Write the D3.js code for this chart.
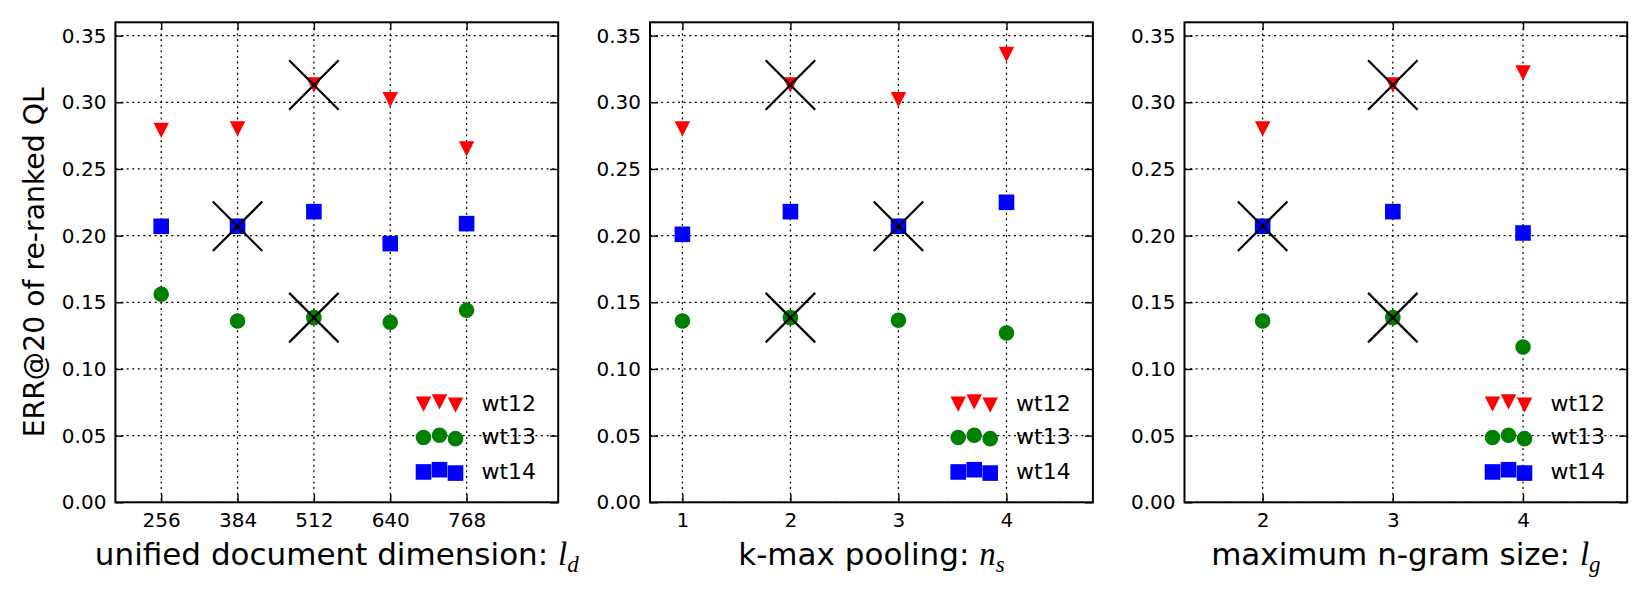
<!DOCTYPE html>
<html>
<head>
<meta charset="utf-8">
<script src="https://cdn.jsdelivr.net/npm/d3@7"></script>
<style>
  html, body { margin: 0; padding: 0; background: #fff; }
  svg { display: block; }
  text { font-family: "DejaVu Sans", sans-serif; fill: #000; }
</style>
</head>
<body>
<svg id="chart" width="1650" height="600"></svg>
<script>
// ---------------- DATA ----------------
const seriesNames = ["wt12", "wt13", "wt14"];
const yTickValues = [0.00, 0.05, 0.10, 0.15, 0.20, 0.25, 0.30, 0.35];

// Panel 1: unified document dimension l_d
const ldCategories = [256, 384, 512, 640, 768];
const ldWt12 = [0.279, 0.280, 0.313, 0.302, 0.265];
const ldWt13 = [0.156, 0.136, 0.1385, 0.135, 0.144];
const ldWt14 = [0.207, 0.207, 0.218, 0.194, 0.209];
const ldBest = [512, 512, 384];          // chosen setting for wt12, wt13, wt14

// Panel 2: k-max pooling n_s
const nsCategories = [1, 2, 3, 4];
const nsWt12 = [0.280, 0.313, 0.302, 0.336];
const nsWt13 = [0.136, 0.1385, 0.1365, 0.127];
const nsWt14 = [0.201, 0.218, 0.207, 0.225];
const nsBest = [2, 2, 3];

// Panel 3: maximum n-gram size l_g
const lgCategories = [2, 3, 4];
const lgWt12 = [0.280, 0.313, 0.322];
const lgWt13 = [0.136, 0.1385, 0.1165];
const lgWt14 = [0.207, 0.218, 0.202];
const lgBest = [3, 3, 2];

const xLabels = [
  {text: "unified document dimension: ", mathMain: "l", mathSub: "d"},
  {text: "k-max pooling: ", mathMain: "n", mathSub: "s"},
  {text: "maximum n-gram size: ", mathMain: "l", mathSub: "g"}
];
const yLabel = "ERR@20 of re-ranked QL";

// ---------------- LAYOUT / STYLE ----------------
const colors = {wt12: "#ff0000", wt13: "#008000", wt14: "#0000ff"};
const panelLeft = [115.4, 650, 1184.5];
const panelRight = [558.2, 1092.9, 1627.2];
const plotTop = 22.3, plotBottom = 502.3;
const tickLen = 8;

const panels = [
  {cats: ldCategories, vals: [ldWt12, ldWt13, ldWt14], best: ldBest},
  {cats: nsCategories, vals: [nsWt12, nsWt13, nsWt14], best: nsBest},
  {cats: lgCategories, vals: [lgWt12, lgWt13, lgWt14], best: lgBest}
];

const svg = d3.select("#chart");

// marker shapes
const triDown = {draw(ctx, size) {
  const h = Math.sqrt(size) / 2;
  ctx.moveTo(0, h); ctx.lineTo(-h * 1.02, -h); ctx.lineTo(h * 1.02, -h); ctx.closePath();
}};
const bigX = {draw(ctx, size) {
  const h = Math.sqrt(size) / 2;
  ctx.moveTo(-h, -h); ctx.lineTo(h, h); ctx.moveTo(-h, h); ctx.lineTo(h, -h);
}};
const symbolFor = {
  wt12: d3.symbol().type(triDown).size(15.2 * 15.2),
  wt13: d3.symbol().type(d3.symbolCircle).size(Math.PI * 7.8 * 7.8),
  wt14: d3.symbol().type(d3.symbolSquare).size(15.6 * 15.6)
};
const xSymbol = d3.symbol().type(bigX).size(49.5 * 49.5);

const y = d3.scaleLinear().domain([0, 0.36]).range([plotBottom, plotTop]);

panels.forEach((p, i) => {
  const x = d3.scaleLinear()
    .domain([0.7 * d3.min(p.cats), 1.2 * d3.max(p.cats)])
    .range([panelLeft[i], panelRight[i]]);
  const g = svg.append("g");

  // grid
  g.append("g").selectAll("line").data(p.cats).join("line")
    .attr("x1", d => x(d)).attr("x2", d => x(d))
    .attr("y1", plotTop).attr("y2", plotBottom)
    .attr("stroke", "#000").attr("stroke-width", 1.2).attr("stroke-dasharray", "2,3.6");
  g.append("g").selectAll("line").data(yTickValues).join("line")
    .attr("x1", panelLeft[i]).attr("x2", panelRight[i])
    .attr("y1", d => y(d)).attr("y2", d => y(d))
    .attr("stroke", "#000").attr("stroke-width", 1.2).attr("stroke-dasharray", "2,3.6");

  // axes with inward ticks on all four sides
  const fmt = d3.format(".2f");
  const left = g.append("g").attr("transform", `translate(${panelLeft[i]},0)`)
    .call(d3.axisLeft(y).tickValues(yTickValues).tickFormat(fmt).tickSizeInner(-tickLen).tickSizeOuter(0).tickPadding(9));
  const right = g.append("g").attr("transform", `translate(${panelRight[i]},0)`)
    .call(d3.axisRight(y).tickValues(yTickValues).tickFormat("").tickSizeInner(-tickLen).tickSizeOuter(0));
  const bottom = g.append("g").attr("transform", `translate(0,${plotBottom})`)
    .call(d3.axisBottom(x).tickValues(p.cats).tickFormat(d3.format("d")).tickSizeInner(-tickLen).tickSizeOuter(0).tickPadding(10.5));
  const top = g.append("g").attr("transform", `translate(0,${plotTop})`)
    .call(d3.axisTop(x).tickValues(p.cats).tickFormat("").tickSizeInner(-tickLen).tickSizeOuter(0));
  [left, right, bottom, top].forEach(a => {
    a.attr("font-size", 20).attr("font-family", "DejaVu Sans");
    a.select(".domain").remove();
    a.selectAll(".tick line").attr("stroke", "#000").attr("stroke-width", 1.4);
    a.selectAll(".tick text").attr("fill", "#000");
  });

  // markers
  seriesNames.forEach((s, k) => {
    g.append("g").selectAll("path").data(p.cats.map((c, j) => [c, p.vals[k][j]])).join("path")
      .attr("transform", d => `translate(${x(d[0])},${y(d[1])})`)
      .attr("d", symbolFor[s]())
      .attr("fill", colors[s]);
  });

  // best-setting crosses
  g.append("g").selectAll("path").data(seriesNames.map((s, k) => [p.best[k], p.vals[k][p.cats.indexOf(p.best[k])]]))
    .join("path")
    .attr("transform", d => `translate(${x(d[0])},${y(d[1])})`)
    .attr("d", xSymbol())
    .attr("fill", "none").attr("stroke", "#000").attr("stroke-width", 2.2);

  // frame
  g.append("rect")
    .attr("x", panelLeft[i]).attr("y", plotTop)
    .attr("width", panelRight[i] - panelLeft[i]).attr("height", plotBottom - plotTop)
    .attr("fill", "none").attr("stroke", "#000").attr("stroke-width", 2);

  // legend (3 scatter points per entry, no frame)
  const offs = [0.375, 0.5, 0.3125];
  const rowBase = [plotBottom - 91.5, plotBottom - 58, plotBottom - 23.6];
  const R = panelRight[i];
  seriesNames.forEach((s, k) => {
    const lg = g.append("g");
    lg.selectAll("path").data(offs).join("path")
      .attr("transform", (o, j) => `translate(${R - 134.7 + j * 16},${rowBase[k] - o * 18})`)
      .attr("d", symbolFor[s]())
      .attr("fill", colors[s]);
    lg.append("text").attr("x", R - 76.8).attr("y", rowBase[k])
      .attr("font-size", "22px").text(s);
  });

  // x label
  const xl = g.append("text").attr("x", (panelLeft[i] + panelRight[i]) / 2).attr("y", 565)
    .attr("text-anchor", "middle").attr("font-size", "31px");
  xl.append("tspan").text(xLabels[i].text);
  xl.append("tspan").text(xLabels[i].mathMain)
    .style("font-family", "Liberation Serif").style("font-style", "italic")
    .attr("font-size", "33px");
  xl.append("tspan").text(xLabels[i].mathSub)
    .style("font-family", "Liberation Serif").style("font-style", "italic")
    .attr("font-size", "23px").attr("dy", 7);
});

// y label
svg.append("text")
  .attr("transform", `translate(43.5,${(plotTop + plotBottom) / 2}) rotate(-90)`)
  .attr("text-anchor", "middle").attr("font-size", "28.3px")
  .text(yLabel);
</script>
</body>
</html>
